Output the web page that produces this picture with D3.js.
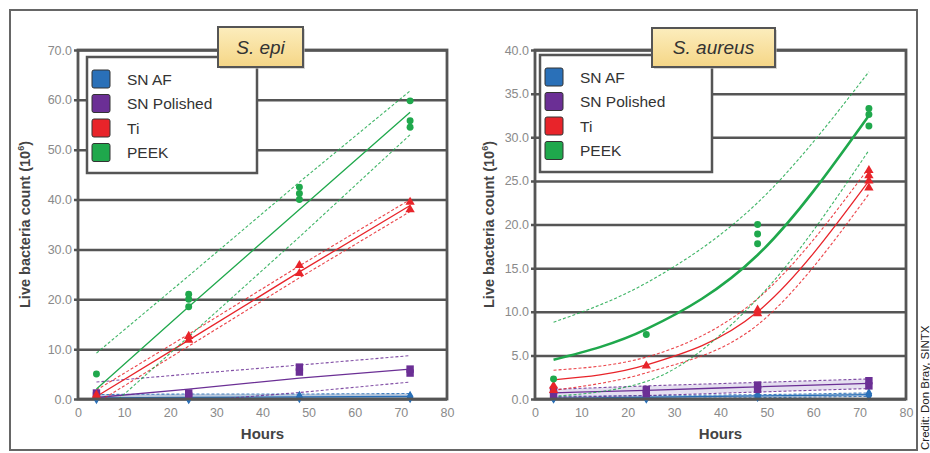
<!DOCTYPE html>
<html>
<head>
<meta charset="utf-8">
<script src="https://cdn.jsdelivr.net/npm/d3@7"></script>
<style>
  body { margin: 0; background: #fff; }
  svg { display: block; font-family: 'Liberation Sans', Arial, sans-serif; }
</style>
</head>
<body>
<script>
const hours = [4, 24, 48, 72];
const materials = ['SN AF', 'SN Polished', 'Ti', 'PEEK'];
const colors = ['#2a70b8', '#6b2f95', '#e8242a', '#1fa84c'];
const symbols = [d3.symbolDiamond, d3.symbolSquare, d3.symbolTriangle, d3.symbolCircle];
const xTicks = [0, 10, 20, 30, 40, 50, 60, 70, 80];

// S. epi replicates, per material, per hour
const epiPoints = [
  [[0.1, 0.3], [0.1, 0.2], [0.3, 0.5], [0.3, 0.5]],
  [[0.6, 1.2], [0.6, 1.2], [5.4, 6.4], [5.2, 6.0]],
  [[0.4, 0.8], [11.8, 12.6], [25.2, 26.8], [38.0, 39.5]],
  [[5.0], [18.5, 20.0, 21.0], [40.0, 41.2, 42.5], [54.5, 55.8, 59.8]]
];
// fitted line and bounds at the same hours
const epiFit = [[0.2, 0.3, 0.4, 0.5], [0.3, 2.0, 4.2, 6.0], [0.5, 11.8, 25.5, 38.8], [2.0, 18.5, 38.0, 57.5]];
const epiLo  = [[-0.4, -0.3, -0.2, -0.1], [-2.0, -0.5, 1.3, 3.4], [-0.8, 10.6, 24.3, 37.6], [-4.0, 12.5, 32.5, 53.0]];
const epiHi  = [[0.9, 1.0, 1.0, 1.1], [3.4, 5.0, 6.8, 8.7], [1.8, 13.0, 26.7, 40.0], [9.2, 24.7, 43.5, 61.8]];
const epiYTicks = [0, 10, 20, 30, 40, 50, 60, 70];

// S. aureus replicates
const aurPoints = [
  [[0.1, 0.2], [0.1, 0.2], [0.3, 0.4], [0.4, 0.6]],
  [[0.4, 1.0], [0.6, 1.1], [1.1, 1.6], [1.5, 2.1]],
  [[1.0, 1.5], [3.8], [9.8, 10.2], [24.2, 25.0, 25.6, 26.2]],
  [[2.3], [7.4], [17.8, 18.9, 20.0], [31.3, 32.6, 33.3]]
];
const aurFit = [[0.1, 0.2, 0.35, 0.5], [0.7, 1.0, 1.4, 1.8], [2.2, 3.9, 10.0, 25.0], [4.5, 8.0, 16.5, 32.5]];
const aurLo  = [[0.0, 0.05, 0.15, 0.3], [0.2, 0.4, 0.8, 1.2], [1.0, 3.0, 8.5, 23.5], [0.3, 2.0, 11.5, 28.5]];
const aurHi  = [[0.3, 0.4, 0.5, 0.7], [1.1, 1.5, 1.9, 2.3], [3.3, 4.8, 11.5, 26.5], [8.8, 13.3, 22.5, 37.5]];
const aurYTicks = [0, 5, 10, 15, 20, 25, 30, 35, 40];

const panels = [
  { title: 'S. epi', points: epiPoints, fit: epiFit, lo: epiLo, hi: epiHi, yTicks: epiYTicks, bands: [true, false],
    left: 78, right: 447, titleBox: [218, 27, 85, 40], legend: [87, 57, 170, 116], yLabelX: 25, curve: d3.curveLinear },
  { title: 'S. aureus', points: aurPoints, fit: aurFit, lo: aurLo, hi: aurHi, yTicks: aurYTicks, bands: [true, true],
    left: 535, right: 906, titleBox: [652, 28, 123, 39], legend: [540, 55, 172, 117], yLabelX: 489, curve: d3.curveMonotoneX }
];

const width = 930, height = 453;
const plotTop = 50, plotBottom = 399;

const svg = d3.select('body').append('svg')
  .attr('width', width)
  .attr('height', height);

const defs = svg.append('defs');
const grad = defs.append('linearGradient').attr('id', 'titleFill')
  .attr('x1', 0).attr('y1', 0).attr('x2', 0).attr('y2', 1);
grad.append('stop').attr('offset', '0%').attr('stop-color', '#fcedbd');
grad.append('stop').attr('offset', '100%').attr('stop-color', '#f5d686');

// outer frame
svg.append('rect')
  .attr('x', 10).attr('y', 10).attr('width', 907).attr('height', 440)
  .attr('fill', 'none').attr('stroke', '#666').attr('stroke-width', 2);

svg.append('text')
  .attr('transform', 'translate(929,450) rotate(-90)')
  .attr('font-size', 11.5).attr('fill', '#222')
  .text('Credit: Don Bray, SINTX');

panels.forEach((p, pi) => {
  const x = d3.scaleLinear().domain([0, 80]).range([p.left, p.right]);
  const y = d3.scaleLinear().domain([0, d3.max(p.yTicks)]).range([plotBottom, plotTop]);
  const g = svg.append('g');

  defs.append('clipPath').attr('id', 'clip' + pi)
    .append('rect').attr('x', p.left).attr('y', plotTop)
    .attr('width', p.right - p.left).attr('height', plotBottom - plotTop);

  // gridlines + y axis
  const yAxis = d3.axisLeft(y).tickValues(p.yTicks).tickSize(-(p.right - p.left)).tickSizeOuter(0)
    .tickFormat(d3.format('.1f'));
  const ya = g.append('g').attr('transform', `translate(${p.left},0)`).call(yAxis);
  ya.select('.domain').remove();
  ya.selectAll('.tick line').attr('stroke', '#555').attr('stroke-width', 2.5).attr('x1', -4);
  ya.selectAll('.tick text').attr('x', -6).attr('fill', '#8a8a8a')
    .attr('font-size', 12.5).attr('font-family', 'Liberation Sans, Arial, sans-serif');

  const xAxis = d3.axisBottom(x).tickValues(xTicks).tickSize(0).tickFormat(d3.format('d'));
  const xa = g.append('g').attr('transform', `translate(0,${plotBottom})`).call(xAxis);
  xa.select('.domain').remove();
  xa.selectAll('.tick text').attr('y', 9).attr('fill', '#8a8a8a')
    .attr('font-size', 12.5).attr('font-family', 'Liberation Sans, Arial, sans-serif');

  // data layer
  const plot = g.append('g').attr('clip-path', `url(#clip${pi})`);
  const line = d3.line().x((d, i) => x(hours[i])).y((d) => y(d)).curve(p.curve);
  const area = d3.area().x((d) => x(d.h)).y0((d) => y(d.lo)).y1((d) => y(d.hi)).curve(p.curve);

  materials.forEach((m, mi) => {
    const c = colors[mi];
    if (mi < 2 && p.bands[mi]) {
      const band = hours.map((h, i) => ({ h: h, lo: p.lo[mi][i], hi: p.hi[mi][i] }));
      plot.append('path').datum(band).attr('d', area)
        .attr('fill', mi === 0 ? '#5a7fb0' : '#a896cc').attr('fill-opacity', mi === 0 ? 0.4 : 0.3);
    }
    [p.lo[mi], p.hi[mi]].forEach((b) => {
      plot.append('path').datum(b).attr('d', line)
        .attr('fill', 'none').attr('stroke', c).attr('stroke-width', 1.1)
        .attr('stroke-dasharray', '3,2').attr('stroke-opacity', 0.85);
    });
    plot.append('path').datum(p.fit[mi]).attr('d', line)
      .attr('fill', 'none').attr('stroke', c)
      .attr('stroke-width', (pi === 1 && mi === 3) ? 2.6 : 1.3);
  });

  materials.forEach((m, mi) => {
    const pts = [];
    p.points[mi].forEach((vals, i) => vals.forEach((v) => pts.push({ h: hours[i], v: v })));
    const sym = d3.symbol().type(symbols[mi]).size(mi === 1 ? 55 : 38);
    g.append('g').selectAll('path').data(pts).join('path')
      .attr('transform', (d) => `translate(${x(d.h)},${y(d.v)})`)
      .attr('d', sym)
      .attr('fill', colors[mi]);
  });

  // plot border
  g.append('rect').attr('x', p.left).attr('y', plotTop)
    .attr('width', p.right - p.left).attr('height', plotBottom - plotTop)
    .attr('fill', 'none').attr('stroke', '#555').attr('stroke-width', 2.8);

  // axis titles
  g.append('text').attr('x', (p.left + p.right) / 2).attr('y', 439)
    .attr('text-anchor', 'middle').attr('font-size', 15).attr('font-weight', 'bold').attr('fill', '#444')
    .text('Hours');
  const yl = g.append('text')
    .attr('transform', `translate(${p.yLabelX + 5},${(plotTop + plotBottom) / 2}) rotate(-90)`)
    .attr('text-anchor', 'middle').attr('font-size', 14.5).attr('font-weight', 'bold').attr('fill', '#444');
  yl.append('tspan').text('Live bacteria count (10');
  yl.append('tspan').attr('font-size', 9).attr('dy', -6).text('6');
  yl.append('tspan').attr('dy', 6).text(')');

  // legend
  const [lx, ly, lw, lh] = p.legend;
  g.append('rect').attr('x', lx).attr('y', ly).attr('width', lw).attr('height', lh)
    .attr('fill', '#fff').attr('stroke', '#555').attr('stroke-width', 2.5);
  materials.forEach((m, mi) => {
    const cy = ly + 22 + mi * 24.5;
    g.append('rect').attr('x', lx + 5).attr('y', cy - 9).attr('width', 18).attr('height', 18)
      .attr('rx', 2).attr('fill', colors[mi]).attr('stroke', '#333').attr('stroke-width', 1);
    g.append('text').attr('x', lx + 40).attr('y', cy + 5.5)
      .attr('font-size', 15.5).attr('fill', '#333').text(m);
  });

  // title box
  const [tx, ty, tw, th] = p.titleBox;
  g.append('rect').attr('x', tx + 2).attr('y', ty + 2).attr('width', tw).attr('height', th)
    .attr('fill', '#bbb').attr('opacity', 0.6);
  g.append('rect').attr('x', tx).attr('y', ty).attr('width', tw).attr('height', th)
    .attr('fill', 'url(#titleFill)').attr('stroke', '#555').attr('stroke-width', 2);
  g.append('text').attr('x', tx + tw / 2).attr('y', ty + th / 2 + 6.5)
    .attr('text-anchor', 'middle').attr('font-size', 19).attr('font-style', 'italic').attr('fill', '#333')
    .text(p.title);
});
</script>
</body>
</html>
